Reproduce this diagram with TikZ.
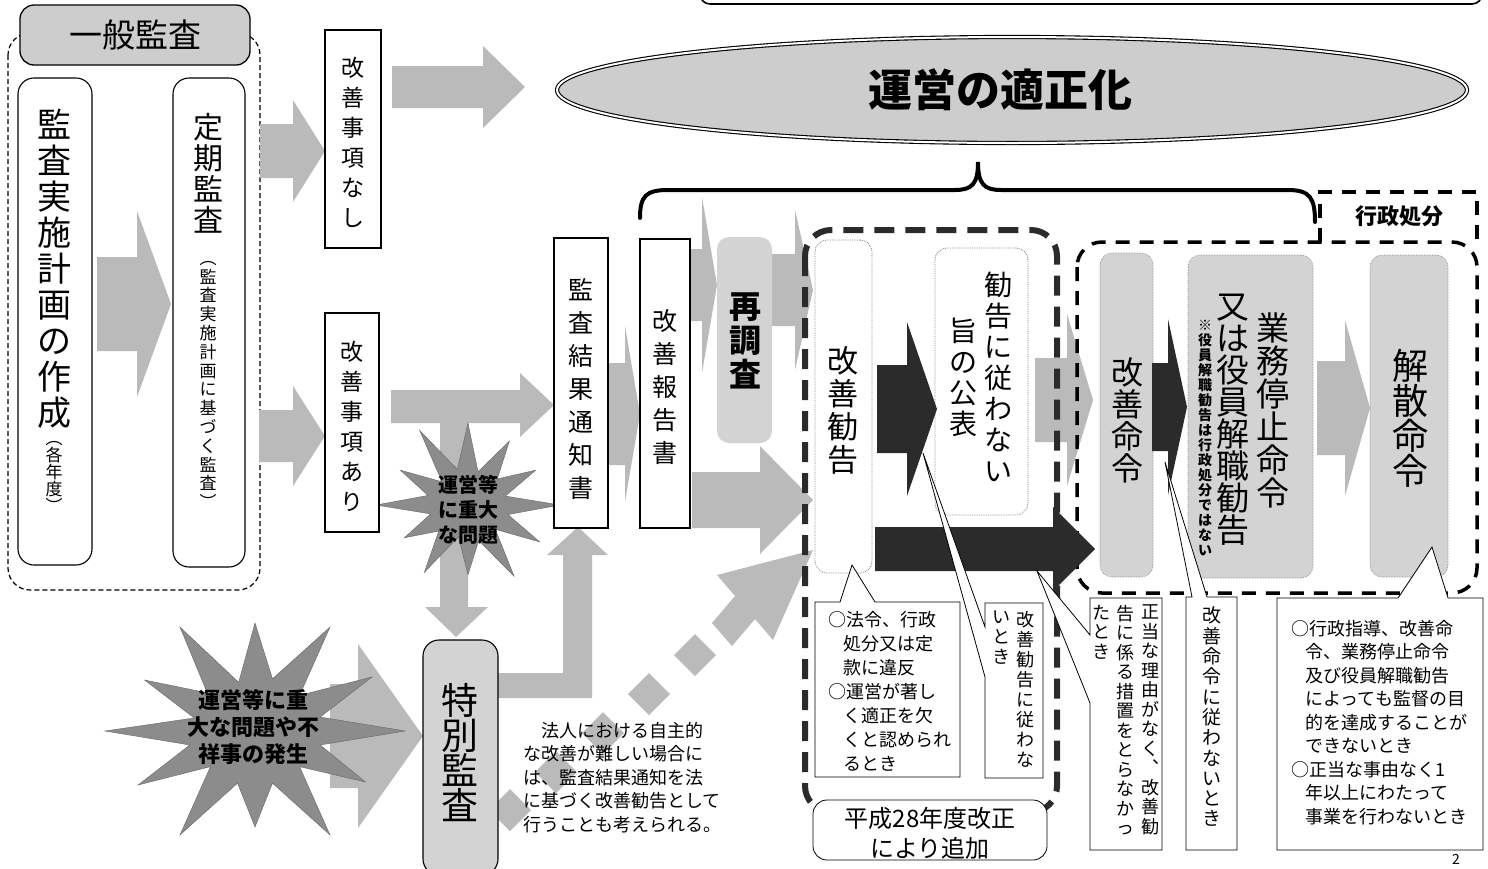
\documentclass[tikz,border=0pt]{standalone}
\usepackage{fontspec}
\setmainfont{Noto Sans CJK JP}
\usetikzlibrary{shapes.geometric}
\definecolor{agray}{HTML}{BABABA}
\definecolor{bgray}{HTML}{D3D3D3}
\definecolor{sgray}{HTML}{8C8C8C}
\definecolor{dark}{HTML}{2B2B2B}
\definecolor{egray}{HTML}{CDCDCD}
\makeatletter
\newcommand\vcol[2]{\vbox{\baselineskip=#1\relax\lineskip=0pt\lineskiplimit=-100pt\@tfor\@vc:=#2\do{\hbox to 1em{\hss\@vc\hss}}}}
\makeatother
\newcommand\fs[1]{\fontsize{#1}{#1}\selectfont}
\newcommand\rarr[7]{\fill[#1] (#2,#5-#6) -- (#3,#5-#6) -- (#3,#5-#7) -- (#4,#5) -- (#3,#5+#7) -- (#3,#5+#6) -- (#2,#5+#6) -- cycle;}
\begin{document}
\begin{tikzpicture}[x=1pt,y=-1pt,
  garrow/.style={fill=agray},
  barrow/.style={fill=dark},
  bx/.style={draw, line width=1.1pt, fill=white, inner sep=0pt, outer sep=0pt},
  rbx/.style={bx, rounded corners=16pt},
  gbx/.style={fill=bgray, draw=gray, densely dotted, line width=0.6pt, rounded corners=12pt, inner sep=0pt},
  wbx/.style={fill=white, draw=gray, densely dotted, line width=0.8pt, rounded corners=12pt, inner sep=0pt},
  callout/.style={draw, line width=0.8pt, fill=white},
  txt/.style={inner sep=0pt, outer sep=0pt},
  starsty/.style={fill=sgray, draw=black!60, line width=0.4pt},
  heavydash/.style={draw=dark, line width=6pt, dash pattern=on 20pt off 11pt},
  meddash/.style={draw=black, line width=3.5pt, dash pattern=on 14pt off 10pt},
]
\useasboundingbox (0,0) rectangle (1488,868);

% top frame remnant
\draw[line width=1.6pt, rounded corners=10pt] (700,-40) rectangle (1482,4);

% ellipse
\node[ellipse, draw, double=white, double distance=2pt, line width=1.1pt, fill=egray,
      minimum width=910, minimum height=106, inner sep=0pt] (tekisei) at (1012,90)
      {\raisebox{-5pt}{\bfseries\fs{44}\hspace*{-24pt}運営の適正化}};

% brace
\draw[line width=4pt, line cap=round] (640,218) .. controls (640,196) and (646,190) .. (668,190) -- (955,190)
  .. controls (972,190) and (978,184) .. (978,162) .. controls (978,184) and (984,190) .. (1001,190)
  -- (1288,190) .. controls (1310,190) and (1315,198) .. (1315,222);

% left dashed frame
\draw[line width=1.2pt, dash pattern=on 5pt off 3pt, rounded corners=22pt] (8,33) rectangle (260,590);

% gray arrows
\rarr{garrow}{260}{293}{325}{151}{27}{51}
\rarr{garrow}{392}{483}{525}{87}{21}{41}
\rarr{garrow}{97}{137}{171}{304}{47}{93}
\rarr{garrow}{259}{293}{325}{436}{26}{50}
\rarr{garrow}{330}{358}{423}{736}{52}{92}
\rarr{garrow}{609}{625}{640}{414}{51}{88}
\rarr{garrow}{690}{702}{717}{285}{36}{88}
\rarr{garrow}{772}{795}{813}{290}{36}{80}
\rarr{garrow}{692}{760}{813}{500}{28}{54}
\rarr{garrow}{1035}{1067}{1093}{400}{42}{86}
\rarr{garrow}{1317}{1345}{1370}{408}{47}{88}
% T arrow
\fill[garrow] (391,390) -- (520,390) -- (520,373) -- (554,405) -- (520,437) -- (520,423) -- (468,423)
  -- (468,607) -- (488,607) -- (456,637) -- (425,607) -- (440,607) -- (440,423) -- (391,423) -- cycle;
% L arrow
\fill[garrow] (498,673) -- (563,673) -- (563,555) -- (547,555) -- (578,527) -- (608,555) -- (592,555)
  -- (592,698) -- (498,698) -- cycle;
% diamonds and diagonal arrow
\foreach \p in {(510,810),(556,772),(603,733),(649,694),(695,655)}
  \fill[garrow] \p +(0,-21) -- +(21,0) -- +(0,21) -- +(-21,0) -- cycle;
\fill[garrow] (712,623) -- (735,596) -- (717,575) -- (813,550) -- (773,640) -- (755,619) -- (732,646) -- cycle;

% stars
\filldraw[starsty] ([shift={(468,505)}]0:92 and 82) \foreach \a/\r in
 {15/0.45,30/0.9,45/0.42,60/1.0,75/0.45,90/0.85,105/0.4,120/0.95,135/0.45,150/0.8,165/0.42,180/1.0,
  195/0.45,210/0.85,225/0.4,240/1.05,255/0.45,270/1.0,285/0.42,300/0.9,315/0.45,330/0.85,345/0.42}
 { -- ([shift={(468,505)}]\a:\r*92 and \r*82) } -- cycle;
\node[txt, align=center, font=\bfseries\fontsize{20}{25}\selectfont] (star1) at (468,510) {運営等\\に重大\\な問題};

\filldraw[starsty] ([shift={(255,731)}]0:150 and 120) \foreach \a/\r in
 {15/0.45,30/0.85,45/0.42,60/1.0,75/0.45,90/0.8,105/0.45,120/1.0,135/0.42,150/0.9,165/0.45,180/1.0,
  195/0.42,210/0.85,225/0.45,240/1.0,255/0.42,270/0.9,285/0.45,300/1.0,315/0.42,330/0.9,345/0.45}
 { -- ([shift={(255,731)}]\a:\r*150 and \r*120) } -- cycle;
\node[txt, align=center, font=\bfseries\fontsize{22}{27}\selectfont] (star2) at (253,727) {運営等に重\\大な問題や不\\祥事の発生};

% left group
\node[bx, rounded corners=14pt, fill=egray, line width=1.3pt, minimum width=230, minimum height=60] (ippan) at (135,35) {};
\node[txt, font=\fs{33}] (ippanT) at (135,35) {一般監査};
\node[rbx, minimum width=74, minimum height=487] (keikaku) at (55,321.5) {};
\node[txt, font=\fs{34}] (keikakuT) at (54,269) {\vcol{36pt}{監査実施計画の作成}};
\node[txt, font=\fs{17}] (keikakuS) at (54,477) {\vcol{17pt}{︵各年度︶}};
\node[rbx, minimum width=72, minimum height=489] (teiki) at (209,322.5) {};
\node[txt, font=\fs{30}] (teikiT) at (208,173) {\vcol{31pt}{定期監査}};
\node[txt, font=\fs{17}] (teikiS) at (208,385) {\vcol{18.8pt}{︵監査実施計画に基づく監査︶}};

% middle boxes
\node[bx, minimum width=56, minimum height=218] (nashi) at (353,139) {};
\node[txt, font=\fs{23}] (nashiT) at (353,142) {\vcol{30pt}{改善事項なし}};
\node[bx, minimum width=54, minimum height=219] (ari) at (352,422.5) {};
\node[txt, font=\fs{23}] (ariT) at (352,426) {\vcol{30pt}{改善事項あり}};
\node[bx, minimum width=54, minimum height=290] (kekka) at (581,383) {};
\node[txt, font=\fs{25}] (kekkaT) at (581,389) {\vcol{33pt}{監査結果通知書}};
\node[bx, minimum width=50, minimum height=289] (houkoku) at (665,383.5) {};
\node[txt, font=\fs{25}] (houkokuT) at (665,387) {\vcol{33pt}{改善報告書}};
\node[fill=bgray, rounded corners=12pt, inner sep=0pt, minimum width=55, minimum height=206] (saichousa) at (744.5,340) {};
\node[txt, font=\bfseries\fs{32}] (saichousaT) at (745,341) {\vcol{34pt}{再調査}};
\node[bx, rounded corners=16pt, fill=bgray, line width=1.1pt, minimum width=75, minimum height=235] (tokubetsu) at (460.5,757.5) {};
\node[txt, font=\fs{37}] (tokubetsuT) at (460,753) {\vcol{35pt}{特別監査}};

% recommendation group
\node[wbx, minimum width=57, minimum height=333] (kankoku) at (843.5,406.5) {};
\node[txt, font=\fs{31}] (kankokuT) at (843,410) {\vcol{33pt}{改善勧告}};
\node[wbx, minimum width=93, minimum height=267] (kouhyou) at (981.5,381.5) {};
\node[txt, font=\fs{28}] (kouhyouA) at (998,377) {\vcol{31pt}{勧告に従わない}};
\node[txt, font=\fs{28}] (kouhyouB) at (963,377) {\vcol{31pt}{旨の公表}};

% administrative disposition group
\node[gbx, minimum width=53, minimum height=324] (meirei) at (1126.5,415) {};
\node[txt, font=\fs{32}] (meireiT) at (1127,420) {\vcol{32pt}{改善命令}};
\node[gbx, minimum width=125, minimum height=323] (teishi) at (1250.5,416.5) {};
\node[txt, font=\fs{33}] (teishiA) at (1273,410) {\vcol{33pt}{業務停止命令}};
\node[txt, font=\fs{33}] (teishiB) at (1233,420) {\vcol{32pt}{又は役員解職勧告}};
\node[txt, font=\bfseries\fs{14}] (teishiC) at (1205,438) {\vcol{15pt}{※役員解職勧告は行政処分ではない}};
\node[gbx, minimum width=78, minimum height=322] (kaisan) at (1409,416) {};
\node[txt, font=\fs{36}] (kaisanT) at (1410,418) {\vcol{35pt}{解散命令}};

% dashed frames
\draw[heavydash, rounded corners=26pt] (805,230) rectangle (1057,812);
\draw[meddash, rounded corners=25pt] (1077,242) rectangle (1477,593);
\draw[meddash] (1320,242) -- (1320,192) -- (1477,192) -- (1477,242);
\node[txt, font=\bfseries\fs{22}] (gyousei) at (1399,216) {行政処分};

% black arrows
\rarr{barrow}{877}{907}{937}{409}{44}{87}
\rarr{barrow}{875}{1053}{1095}{549}{22}{42}
\rarr{barrow}{1152}{1168}{1187}{407}{44}{88}

% label of amendment
\node[draw, line width=0.8pt, fill=white, rounded corners=14pt, inner sep=0pt, minimum width=234, minimum height=60] (heisei) at (930,830) {};
\node[txt, align=center, font=\fontsize{24}{30}\selectfont] (heiseiT) at (930,833) {平成28年度改正\\により追加};

% note text
\node[txt, anchor=north west, align=left, font=\fontsize{18}{23.5}\selectfont] (note) at (523,722)
 {\hspace*{1em}法人における自主的\\な改善が難しい場合に\\は、監査結果通知を法\\に基づく改善勧告として\\行うことも考えられる。};

% callouts
\draw[callout] (815,602) -- (840,602) -- (852,565) -- (875,602) -- (960,602) -- (960,777) -- (815,777) -- cycle;
\node[txt, anchor=north west, align=left, font=\fontsize{18}{24}\selectfont] (c1) at (828,611)
 {○法令、行政\\\hspace*{.85em}処分又は定\\\hspace*{.85em}款に違反\\○運営が著し\\\hspace*{.85em}く適正を欠\\\hspace*{.85em}くと認められ\\\hspace*{.85em}るとき};

\draw[callout] (985,603) -- (1043,603) -- (1043,778) -- (985,778) -- (985,677) -- (923,453) -- (985,627) -- cycle;
\node[txt, anchor=north, font=\fs{18}] (c2a) at (1025,611) {\vcol{20pt}{改善勧告に従わな}};
\node[txt, anchor=north, font=\fs{18}] (c2b) at (1001,611) {\vcol{20pt}{いとき}};

\draw[callout] (1090,598) -- (1162,598) -- (1162,850) -- (1090,850) -- (1090,703) -- (1037,571) -- (1090,635) -- cycle;
\node[txt, anchor=north, font=\fs{18}] (c3a) at (1150,605) {\vcol{19.5pt}{正当な理由がなく︑改善勧}};
\node[txt, anchor=north, font=\fs{18}] (c3b) at (1125,605) {\vcol{19.5pt}{告に係る措置をとらなかっ}};
\node[txt, anchor=north, font=\fs{18}] (c3c) at (1101,605) {\vcol{19.5pt}{たとき}};

\draw[callout] (1186,597) -- (1192,597) -- (1165,462) -- (1207,597) -- (1237,597) -- (1237,850) -- (1186,850) -- cycle;
\node[txt, anchor=north, font=\fs{19}] (c4) at (1212,607) {\vcol{20.3pt}{改善命令に従わないとき}};

\draw[callout] (1277,598) -- (1398,598) -- (1432,547) -- (1448,598) -- (1483,598) -- (1483,850) -- (1277,850) -- cycle;
\node[txt, anchor=north west, align=left, font=\fontsize{18}{23.5}\selectfont] (c5) at (1291,620)
 {○行政指導、改善命\\\hspace*{.8em}令、業務停止命令\\\hspace*{.8em}及び役員解職勧告\\\hspace*{.8em}によっても監督の目\\\hspace*{.8em}的を達成することが\\\hspace*{.8em}できないとき\\○正当な事由なく1\\\hspace*{.8em}年以上にわたって\\\hspace*{.8em}事業を行わないとき};

% page number
\node[txt, font=\fs{14}] (pg) at (1456,859) {2};
\end{tikzpicture}
\end{document}
